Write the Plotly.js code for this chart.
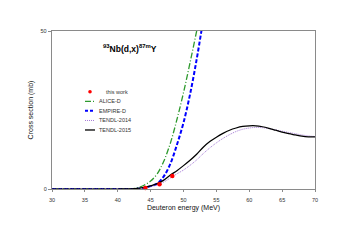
<!DOCTYPE html>
<html><head><meta charset="utf-8">
<script src="https://cdn.plot.ly/plotly-3.0.1.min.js"></script>
<style>html,body{margin:0;padding:0;background:#fff;}#chart{width:351px;height:248px;}</style>
</head><body><div id="chart"></div>
<script>
// ---- data ----
var expE = [44.2, 46.35, 48.3];
var expXS = [0.3, 1.5, 4.1];

var aliceE  = [30, 35, 40, 42, 43, 44, 45, 46, 47, 48, 49, 50, 51, 52, 52.3];
var aliceXS = [0, 0, 0, 0.05, 0.4, 1.2, 2.5, 4.8, 8.8, 14.5, 22, 30.5, 40, 50, 53];

var empireE  = [30, 35, 40, 42, 43, 44, 45, 46, 47, 48, 49, 50, 51, 52, 52.8];
var empireXS = [0, 0, 0, 0, 0.05, 0.3, 0.9, 1.7, 4, 8, 14, 21, 30, 41, 51];

var t14E  = [30, 35, 40, 42, 43, 44, 45, 46, 47, 48, 49, 50, 51, 52, 53, 54, 55, 56, 57, 58, 59, 60, 61, 62, 63, 64, 65, 66, 67, 68, 69, 70];
var t14XS = [0, 0, 0, 0.05, 0.15, 0.4, 0.8, 1.3, 2.2, 3.5, 4.8, 6.0, 7.5, 9.2, 11.2, 13.0, 14.6, 16.0, 17.2, 18.2, 18.9, 19.3, 19.5, 19.4, 19.1, 18.7, 18.3, 17.9, 17.5, 17.1, 16.8, 16.6];

var t15E  = [30, 35, 40, 42, 43, 44, 45, 46, 47, 48, 49, 50, 51, 52, 53, 54, 55, 56, 57, 58, 59, 60, 61, 62, 63, 64, 65, 66, 67, 68, 69, 70];
var t15XS = [0, 0, 0, 0.05, 0.2, 0.5, 1.0, 1.7, 2.8, 4.4, 5.8, 7.4, 9.1, 11.0, 13.2, 15.0, 16.4, 17.6, 18.6, 19.3, 19.8, 20.0, 20.0, 19.7, 19.2, 18.6, 18.0, 17.5, 17.1, 16.7, 16.5, 16.5];

var names = ["this work", "ALICE-D", "EMPIRE-D", "TENDL-2014", "TENDL-2015"];
var xTicks = [30, 35, 40, 45, 50, 55, 60, 65, 70];
var yTicks = [0, 50];

// ---- styles ----
var FONT = "Arial, 'Liberation Sans', sans-serif";
var cGreen = "#2e9a2e", cBlue = "#0000ff", cPurple = "#a57ad6", cBlack = "#000000", cRed = "#ff0000";

var traces = [
  {x: aliceE, y: aliceXS, mode: "lines", line: {color: cGreen, width: 1.3, dash: "6px,2px,1px,2px", shape: "spline"}, name: names[1]},
  {x: empireE, y: empireXS, mode: "lines", line: {color: cBlue, width: 2, dash: "4px,2px", shape: "spline"}, name: names[2]},
  {x: t14E, y: t14XS, mode: "lines", line: {color: cPurple, width: 1, dash: "1px,1px", shape: "spline"}, name: names[3]},
  {x: t15E, y: t15XS, mode: "lines", line: {color: cBlack, width: 1.25, shape: "spline"}, name: names[4]},
  {x: expE, y: expXS, mode: "markers", marker: {color: cRed, size: 4.5, symbol: "circle"}, name: names[0], cliponaxis: false}
];

// plot area in px
var L = 52, R = 315, T = 31, B = 188.7;
function px2x(p){ return (p - L) / (R - L); }
function py2y(p){ return (B - p) / (B - T); }

var shapes = [], annotations = [];
// legend (manual, compact)
var legY = [91.7, 101.2, 110.7, 120.3, 129.8];
var legStyles = [null,
  {color: cGreen, width: 1.3, dash: "6px,2px,1px,2px"},
  {color: cBlue, width: 2, dash: "3px,2px"},
  {color: cPurple, width: 1, dash: "1px,1px"},
  {color: cBlack, width: 1.3}];
for (var i = 0; i < names.length; i++) {
  if (i === 0) {
    shapes.push({type: "circle", xref: "paper", yref: "paper",
      x0: px2x(88.2), x1: px2x(91.8), y0: py2y(legY[i] + 1.8), y1: py2y(legY[i] - 1.8),
      fillcolor: cRed, line: {width: 0}});
  } else {
    shapes.push({type: "line", xref: "paper", yref: "paper",
      x0: px2x(85), x1: px2x(95), y0: py2y(legY[i]), y1: py2y(legY[i]), line: legStyles[i]});
  }
  annotations.push({xref: "paper", yref: "paper", x: px2x(i === 0 ? 104 : 96.5), y: py2y(legY[i]),
    xanchor: "left", yanchor: "middle", text: names[i], showarrow: false,
    font: {family: FONT, size: 5.5, color: "#333"}});
}
annotations.push({xref: "paper", yref: "paper", x: px2x(130), y: py2y(48), xanchor: "center", yanchor: "middle",
  showarrow: false, text: "<b><sup>93</sup>Nb(d,x)<sup>87m</sup>Y</b>", font: {family: FONT, size: 8.5, color: "#000"}});

var layout = {
  width: 351, height: 248,
  margin: {l: L, r: 351 - R, t: T, b: 248 - B, pad: 0},
  paper_bgcolor: "#fff", plot_bgcolor: "#fff",
  showlegend: false,
  font: {family: FONT, size: 5.5, color: "#333"},
  xaxis: {range: [30, 70], tickvals: xTicks, ticktext: xTicks.map(String), showgrid: false, zeroline: false,
    showline: true, mirror: true, linecolor: "#8a8a8a", linewidth: 1.2, ticks: "outside", ticklen: 2, tickcolor: "#8a8a8a",
    ticklabelstandoff: 3,
    tickfont: {family: FONT, size: 5.5, color: "#333"},
    title: {text: "Deuteron energy (MeV)", font: {family: FONT, size: 7, color: "#111"}, standoff: 3}},
  yaxis: {range: [0, 50], tickvals: yTicks, ticktext: yTicks.map(String), showgrid: false, zeroline: false,
    showline: true, mirror: true, linecolor: "#8a8a8a", linewidth: 1.2, ticks: "outside", ticklen: 3, tickcolor: "#8a8a8a",
    tickfont: {family: FONT, size: 5.5, color: "#333"},
    title: {text: "Cross section (mb)", font: {family: FONT, size: 7, color: "#111"}, standoff: 6}},
  shapes: shapes,
  annotations: annotations
};

Plotly.newPlot("chart", traces, layout, {displayModeBar: false, staticPlot: true});
</script>
</body></html>
